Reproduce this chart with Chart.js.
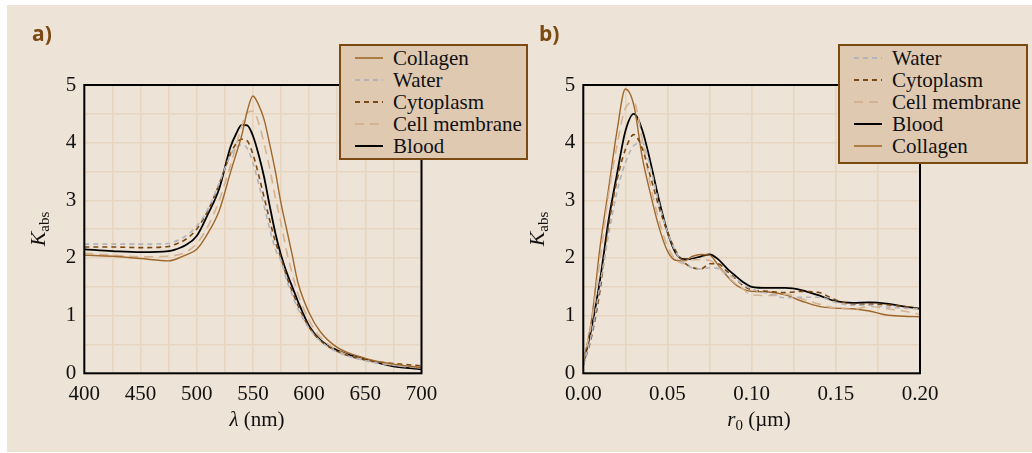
<!DOCTYPE html>
<html>
<head>
<meta charset="utf-8">
<script src="https://cdn.jsdelivr.net/npm/chart.js@4.4.1/dist/chart.umd.min.js"></script>
<style>
  html, body { margin: 0; padding: 0; background: #fff; width: 1032px; height: 453px; overflow: hidden; }
  #panel { position: absolute; left: 7px; top: 5px; width: 1025px; height: 447px; background: #ede3d6; }
  canvas { position: absolute; top: 0; }
  #chartA { left: 0; }
  #chartB { left: 530px; }
  .tag { position: absolute; font-family: "Open Sans", sans-serif; font-weight: 700; font-size: 21px; color: #7a4a12; line-height: 1; }
  .axis-title { position: absolute; font-family: "Liberation Serif", serif; font-size: 21px; color: #111; white-space: nowrap; transform: translate(-50%, -50%); }
  .axis-title sub { font-size: 15px; vertical-align: -4px; }
  .axis-title.rot { transform: translate(-50%, -50%) rotate(-90deg); }
  .axis-title.rot i { font-size: 22px; }
  .legend { position: absolute; background: #dfcab1; border: 2.5px solid #7a4a12; box-sizing: border-box; z-index: 5;
            font-family: "Liberation Serif", serif; font-size: 21px; color: #111; padding-top: 1px; }
  .legend .row { height: 22px; line-height: 22px; white-space: nowrap; position: relative; }
  .legend svg { position: absolute; top: 6px; }
</style>
</head>
<body>
<div id="panel"></div>
<canvas id="chartA" width="470" height="453"></canvas>
<canvas id="chartB" width="430" height="453"></canvas>
<div class="tag" style="left:32px; top:23px;">a)</div>
<div class="tag" style="left:539px; top:23px;">b)</div>
<div class="axis-title" style="left:257px; top:419px;"><i>λ</i> (nm)</div>
<div class="axis-title rot" style="left:39px; top:229px;"><i>K</i><sub>abs</sub></div>
<div class="axis-title" style="left:759px; top:420px;"><i>r</i><sub>0</sub> (µm)</div>
<div class="axis-title rot" style="left:538px; top:229px;"><i>K</i><sub>abs</sub></div>
<div class="legend" id="legendA" style="left:339px; top:44px; width:189px; height:116px;"></div>
<div class="legend" id="legendB" style="left:838px; top:44px; width:190px; height:120px;"></div>
<script>
// panel a) absorption vs wavelength
const wavelengthNm = [400, 425, 450, 475, 480, 490, 500, 510, 520, 530, 535, 540, 545, 550, 555, 560, 565, 570, 575, 580, 585, 590, 600, 610, 625, 650, 675, 700];
const collagenA     = [2.05, 2.03, 1.99, 1.95, 1.97, 2.05, 2.15, 2.43, 2.82, 3.48, 3.80, 4.12, 4.55, 4.81, 4.66, 4.40, 3.97, 3.50, 2.95, 2.50, 2.05, 1.58, 1.05, 0.72, 0.45, 0.26, 0.16, 0.10];
const waterA        = [2.24, 2.24, 2.24, 2.25, 2.28, 2.38, 2.55, 2.85, 3.30, 3.78, 3.92, 3.96, 3.90, 3.65, 3.30, 2.90, 2.50, 2.15, 1.95, 1.62, 1.36, 1.12, 0.78, 0.56, 0.37, 0.22, 0.14, 0.10];
const cytoplasmA    = [2.19, 2.19, 2.18, 2.20, 2.23, 2.32, 2.50, 2.82, 3.28, 3.80, 3.98, 4.06, 4.03, 3.80, 3.45, 3.05, 2.65, 2.28, 2.00, 1.68, 1.42, 1.18, 0.80, 0.57, 0.38, 0.23, 0.17, 0.13];
const membraneA     = [2.08, 2.05, 2.02, 2.03, 2.04, 2.10, 2.25, 2.55, 3.00, 3.60, 3.95, 4.28, 4.52, 4.55, 4.35, 3.98, 3.55, 3.05, 2.60, 2.12, 1.72, 1.38, 0.92, 0.63, 0.40, 0.23, 0.14, 0.09];
const bloodA        = [2.15, 2.12, 2.10, 2.12, 2.14, 2.22, 2.38, 2.76, 3.20, 3.92, 4.15, 4.31, 4.30, 4.12, 3.80, 3.40, 2.90, 2.43, 2.05, 1.75, 1.50, 1.25, 0.82, 0.58, 0.40, 0.24, 0.12, 0.07];

// panel b) absorption vs particle radius
const radiusUm   = [0, 0.005, 0.01, 0.015, 0.02, 0.025, 0.03, 0.035, 0.04, 0.045, 0.05, 0.055, 0.06, 0.065, 0.07, 0.075, 0.08, 0.085, 0.09, 0.095, 0.1, 0.11, 0.12, 0.13, 0.14, 0.15, 0.16, 0.17, 0.18, 0.19, 0.2];
const waterB     = [0.14, 0.70, 1.55, 2.40, 3.15, 3.65, 3.95, 4.00, 3.55, 2.95, 2.45, 2.10, 1.90, 1.83, 1.81, 1.83, 1.82, 1.74, 1.64, 1.54, 1.46, 1.38, 1.31, 1.32, 1.32, 1.23, 1.18, 1.18, 1.15, 1.13, 1.11];
const cytoplasmB = [0.14, 0.65, 1.45, 2.55, 3.35, 3.88, 4.14, 3.90, 3.40, 2.88, 2.45, 2.12, 1.92, 1.83, 1.81, 1.90, 1.90, 1.78, 1.65, 1.52, 1.45, 1.42, 1.40, 1.42, 1.40, 1.27, 1.20, 1.20, 1.19, 1.16, 1.12];
const membraneB  = [0.20, 0.90, 2.00, 3.10, 3.95, 4.60, 4.70, 4.05, 3.25, 2.65, 2.20, 1.97, 1.90, 1.97, 1.97, 1.96, 1.85, 1.70, 1.57, 1.46, 1.36, 1.35, 1.37, 1.29, 1.20, 1.13, 1.11, 1.16, 1.12, 1.08, 1.02];
const bloodB     = [0.17, 0.80, 1.63, 2.65, 3.45, 4.20, 4.50, 4.22, 3.65, 3.00, 2.45, 2.08, 1.98, 1.99, 2.03, 2.06, 1.98, 1.83, 1.70, 1.58, 1.50, 1.48, 1.48, 1.44, 1.35, 1.25, 1.22, 1.23, 1.21, 1.16, 1.12];
const collagenB  = [0.18, 0.95, 2.20, 3.20, 4.20, 4.93, 4.65, 3.75, 3.10, 2.53, 2.12, 1.96, 1.95, 2.03, 2.06, 2.05, 1.88, 1.70, 1.55, 1.46, 1.42, 1.41, 1.36, 1.25, 1.16, 1.13, 1.12, 1.08, 1.01, 0.99, 0.98];

const looks = {
  'Collagen':      { color: '#a0672c', width: 1.4, dash: [] },
  'Water':         { color: '#b3b3bb', width: 1.6, dash: [5, 4] },
  'Cytoplasm':     { color: '#7a4810', width: 1.6, dash: [5, 4] },
  'Cell membrane': { color: '#d3b393', width: 1.6, dash: [9, 6] },
  'Blood':         { color: '#000000', width: 1.8, dash: [] }
};

function series(label, xs, ys) {
  const s = looks[label];
  return {
    label,
    data: xs.map((x, i) => ({ x, y: ys[i] })),
    borderColor: s.color,
    borderWidth: s.width,
    borderDash: s.dash,
    pointRadius: 0,
    fill: false,
    cubicInterpolationMode: 'monotone'
  };
}

const frame = {
  id: 'frame',
  afterDraw(chart) {
    const { ctx, chartArea: a } = chart;
    ctx.save();
    ctx.strokeStyle = '#000';
    ctx.lineWidth = 2;
    ctx.strokeRect(a.left, a.top, a.right - a.left, a.bottom - a.top);
    ctx.restore();
  }
};

const gridColor = '#e7d5c0';
const tickFont = { family: 'Liberation Serif', size: 21 };

function options(xMin, xMax, xStep, xLabel, yAxisWidth, rightPad) {
  return {
    responsive: false,
    animation: false,
    layout: { padding: { top: 85, right: rightPad, bottom: 0, left: 0 } },
    plugins: { legend: { display: false }, tooltip: { enabled: false } },
    scales: {
      x: {
        type: 'linear', min: xMin, max: xMax,
        grid: { color: gridColor, lineWidth: 1.6, drawTicks: false },
        border: { display: false },
        ticks: { stepSize: xStep, autoSkip: false, maxRotation: 0, padding: 9, color: '#111', font: tickFont, callback: xLabel },
        afterFit(scale) { scale.height = 453 - 373.3; }
      },
      y: {
        min: 0, max: 5,
        grid: { color: gridColor, lineWidth: 1.6, drawTicks: false },
        border: { display: false },
        ticks: { stepSize: 0.5, autoSkip: false, padding: 8, color: '#111', font: tickFont,
                 callback: v => Number.isInteger(v) ? String(v) : '' },
        afterFit(scale) { scale.width = yAxisWidth; }
      }
    }
  };
}

const chartA = new Chart(document.getElementById('chartA'), {
  type: 'line',
  data: {
    datasets: [
      series('Collagen', wavelengthNm, collagenA),
      series('Water', wavelengthNm, waterA),
      series('Cytoplasm', wavelengthNm, cytoplasmA),
      series('Cell membrane', wavelengthNm, membraneA),
      series('Blood', wavelengthNm, bloodA)
    ]
  },
  options: options(400, 700, 25, v => v % 50 === 0 ? String(v) : '', 84.3, 470 - 421.5),
  plugins: [frame]
});

const chartB = new Chart(document.getElementById('chartB'), {
  type: 'line',
  data: {
    datasets: [
      series('Water', radiusUm, waterB),
      series('Cytoplasm', radiusUm, cytoplasmB),
      series('Cell membrane', radiusUm, membraneB),
      series('Collagen', radiusUm, collagenB),
      series('Blood', radiusUm, bloodB)
    ]
  },
  options: options(0, 0.2, 0.025, v => Math.round(v * 1000) % 50 === 0 ? v.toFixed(2) : '', 583.3 - 530, 430 - (920 - 530)),
  plugins: [frame]
});

function buildLegend(el, order, lineLeft) {
  order.forEach(label => {
    const s = looks[label];
    const row = document.createElement('div');
    row.className = 'row';
    row.style.paddingLeft = (lineLeft + 38) + 'px';
    row.innerHTML =
      `<svg width="30" height="10" style="left:${lineLeft}px"><line x1="0" y1="5" x2="28" y2="5" stroke="${s.color}" stroke-width="${s.width + 0.2}" stroke-dasharray="${s.dash.join(' ')}"/></svg>` +
      label;
    el.appendChild(row);
  });
}

buildLegend(document.getElementById('legendA'), ['Collagen', 'Water', 'Cytoplasm', 'Cell membrane', 'Blood'], 14);
buildLegend(document.getElementById('legendB'), ['Water', 'Cytoplasm', 'Cell membrane', 'Blood', 'Collagen'], 14);
</script>
</body>
</html>
